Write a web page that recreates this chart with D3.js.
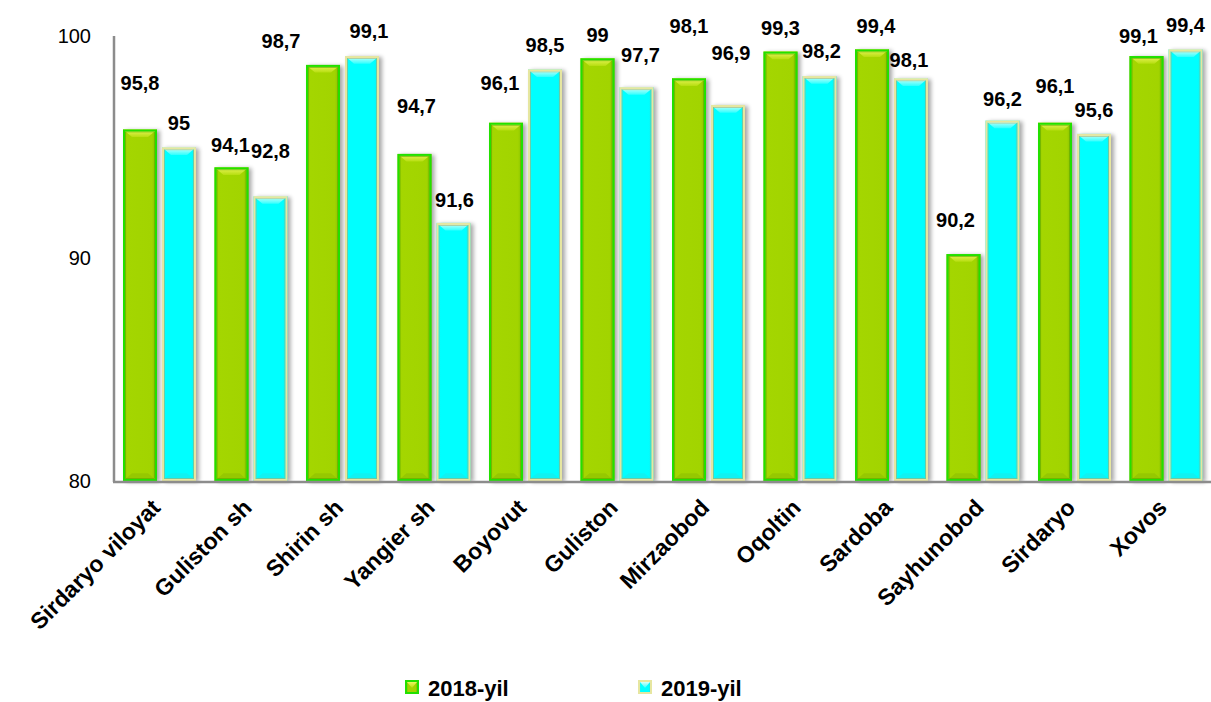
<!DOCTYPE html>
<html><head><meta charset="utf-8">
<script src="https://cdn.jsdelivr.net/npm/d3@7"></script>
<style>
body{margin:0;background:#fff}
svg{display:block;font-family:"Liberation Sans",Arial,Helvetica,sans-serif}
</style>
</head><body>
<svg id="chart" width="1211" height="702"></svg>
<script>
// ---- data ----
const categories = ["Sirdaryo viloyat","Guliston sh","Shirin sh","Yangier sh","Boyovut","Guliston","Mirzaobod","Oqoltin","Sardoba","Sayhunobod","Sirdaryo","Xovos"];
const values2018 = [95.8, 94.1, 98.7, 94.7, 96.1, 99, 98.1, 99.3, 99.4, 90.2, 96.1, 99.1];
const values2019 = [95, 92.8, 99.1, 91.6, 98.5, 97.7, 96.9, 98.2, 98.1, 96.2, 95.6, 99.4];
const labels2018 = ["95,8","94,1","98,7","94,7","96,1","99","98,1","99,3","99,4","90,2","96,1","99,1"];
const labels2019 = ["95","92,8","99,1","91,6","98,5","97,7","96,9","98,2","98,1","96,2","95,6","99,4"];
const seriesNames = ["2018-yil","2019-yil"];
const yTicks = [80, 90, 100];

// ---- layout (label nudges, px) ----
const nudge2018 = [[0,23],[-1,-1],[-42,1],[2,25],[-6,17],[0,0],[0,29],[0,1],[4,0],[-8,11],[0,14],[-8,-3]];
const nudge2019 = [[0,1],[0,22],[7,2],[1,0],[0,1],[4,9],[3,29],[2,2],[-2,-5],[0,-1],[0,1],[0,1]];

const svg = d3.select("#chart");
const plotLeft = 114, plotRight = 1212, plotTop = 36, plotBottom = 481;

const x0 = d3.scaleBand().domain(categories).range([plotLeft, plotRight]).paddingInner(0).paddingOuter(0);
const x1 = d3.scaleBand().domain(seriesNames).range([9, 82]).paddingInner(0.128).paddingOuter(0);
const y = d3.scaleLinear().domain([80, 100]).range([plotBottom, plotTop]);

// defs
const defs = svg.append("defs");
const f = defs.append("filter").attr("id","shadow").attr("x","-30%").attr("y","-10%").attr("width","160%").attr("height","120%");
f.append("feGaussianBlur").attr("in","SourceAlpha").attr("stdDeviation",2).attr("result","b");
f.append("feOffset").attr("in","b").attr("dx",3).attr("dy",1).attr("result","o");
f.append("feComponentTransfer").attr("in","o").append("feFuncA").attr("type","linear").attr("slope",0.35);

function lin(id, stops, vertical){
  const g = defs.append("linearGradient").attr("id",id)
    .attr("x1",0).attr("y1",0).attr("x2",vertical?0:1).attr("y2",vertical?1:0);
  stops.forEach(s=>g.append("stop").attr("offset",s[0]).attr("stop-color",s[1]));
}
lin("gBody",[[0,"#86c400"],[0.12,"#a4d600"],[0.85,"#a2d400"],[1,"#7fbf00"]],false);
lin("gTop",[[0,"#eef560"],[1,"#b6de10"]],true);
lin("cBody",[[0,"#20f4f4"],[0.12,"#00ffff"],[0.85,"#00ffff"],[1,"#18eaea"]],false);
lin("cTop",[[0,"#d8fff8"],[1,"#30ffff"]],true);

const style = {
  "2018-yil": {body:"url(#gBody)", top:"url(#gTop)", bottom:"#96c800", border:"#22e000", inner:"#5aa800"},
  "2019-yil": {body:"url(#cBody)", top:"url(#cTop)", bottom:"#10f2f2", border:"#e6e6a0", inner:"#b4ac68"}
};

// axes lines
svg.append("line").attr("x1",plotLeft).attr("x2",plotLeft).attr("y1",plotTop).attr("y2",plotBottom+1)
  .attr("stroke","#8c8c8c").attr("stroke-width",2.5);

// y tick labels via axis
const yAxis = d3.axisLeft(y).tickValues(yTicks).tickSize(0).tickPadding(0).tickFormat(d3.format("d"));
const gy = svg.append("g").attr("transform",`translate(${plotLeft-23},0)`).call(yAxis);
gy.select(".domain").remove();
gy.selectAll("text").attr("font-size",20).attr("fill","#000").attr("font-family","'Liberation Sans',Arial,sans-serif");

// bars
function drawBar(g, name, xPos, v){
  const s = style[name];
  const w = x1.bandwidth();
  const top = y(v), bot = y(80);
  const h = bot - top;
  const b = Math.min(9, h/2);
  g.append("rect").attr("x",xPos).attr("y",top).attr("width",w).attr("height",h)
    .attr("fill","#000").attr("filter","url(#shadow)");
  g.append("rect").attr("x",xPos).attr("y",top).attr("width",w).attr("height",h).attr("fill",s.body);
  g.append("path").attr("d",`M${xPos},${top}L${xPos+w},${top}L${xPos+w-b},${top+b*0.85}L${xPos+b},${top+b*0.85}Z`).attr("fill",s.top);
  g.append("path").attr("d",`M${xPos},${bot}L${xPos+w},${bot}L${xPos+w-b},${bot-b*0.85}L${xPos+b},${bot-b*0.85}Z`).attr("fill",s.bottom);
  g.append("rect").attr("x",xPos+2.5).attr("y",top+2.5).attr("width",w-5).attr("height",h-5)
    .attr("fill","none").attr("stroke",s.inner).attr("stroke-width",0.8).attr("opacity",0.7);
  g.append("rect").attr("x",xPos+1).attr("y",top+1).attr("width",w-2).attr("height",h-2)
    .attr("fill","none").attr("stroke",s.border).attr("stroke-width",2);
}

const groups = svg.append("g").selectAll("g").data(categories).join("g")
  .attr("transform",d=>`translate(${x0(d)},0)`);
groups.each(function(d,i){
  const g = d3.select(this);
  drawBar(g, "2018-yil", x1("2018-yil"), values2018[i]);
  drawBar(g, "2019-yil", x1("2019-yil"), values2019[i]);
});

// x axis line
svg.append("line").attr("x1",plotLeft-1).attr("x2",plotRight).attr("y1",plotBottom+1).attr("y2",plotBottom+1)
  .attr("stroke","#8c8c8c").attr("stroke-width",2.5);

// data labels
const lab = svg.append("g").attr("font-weight","bold").attr("font-size",20).attr("text-anchor","middle").attr("fill","#000");
categories.forEach((c,i)=>{
  const w = x1.bandwidth();
  lab.append("text").attr("x",x0(c)+x1("2018-yil")+w/2+nudge2018[i][0]).attr("y",y(values2018[i])-16-nudge2018[i][1]).text(labels2018[i]);
  lab.append("text").attr("x",x0(c)+x1("2019-yil")+w/2+nudge2019[i][0]).attr("y",y(values2019[i])-16-nudge2019[i][1]).text(labels2019[i]);
});

// category labels
const xAxis = d3.axisBottom(x0).tickSize(0).tickPadding(0);
const gx = svg.append("g").attr("transform",`translate(0,${plotBottom})`).call(xAxis);
gx.select(".domain").remove();
gx.selectAll("text")
  .attr("font-size",23).attr("font-weight","bold").attr("fill","#000")
  .attr("font-family","'Liberation Sans',Arial,sans-serif")
  .attr("text-anchor","end").attr("dy",0)
  .attr("transform","translate(2,28) rotate(-45)");

// legend
const leg = svg.append("g");
const legItems = [{name:"2018-yil", x:405},{name:"2019-yil", x:638}];
legItems.forEach(it=>{
  const s = style[it.name];
  const g = leg.append("g");
  const sz = 14, sy = 680;
  g.append("rect").attr("x",it.x).attr("y",sy).attr("width",sz).attr("height",sz).attr("fill",s.border);
  g.append("rect").attr("x",it.x+2).attr("y",sy+2).attr("width",sz-4).attr("height",sz-4).attr("fill",s.body);
  g.append("path").attr("d",`M${it.x+2},${sy+2}L${it.x+sz-2},${sy+2}L${it.x+sz/2},${sy+sz/2+1}Z`).attr("fill",s.top);
  g.append("text").attr("x",it.x+sz+9).attr("y",sy+sz+2).attr("font-size",22).attr("font-weight","bold").text(it.name);
});
</script>
</body></html>
